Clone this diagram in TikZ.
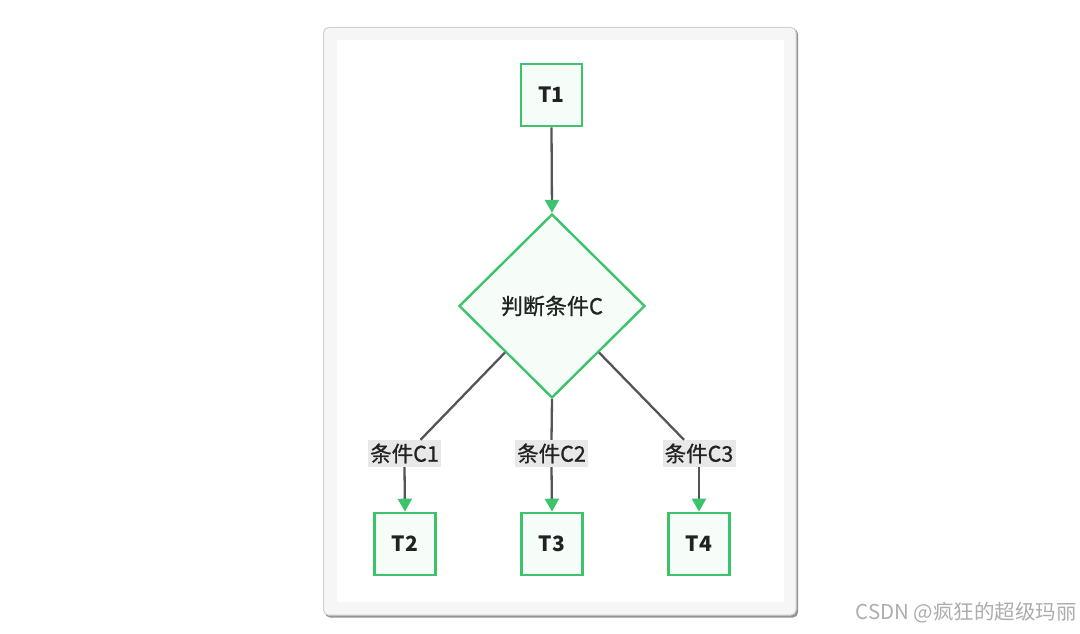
\documentclass[tikz,border=0pt]{standalone}
\usepackage{fontspec}
\setmainfont{Noto Sans CJK SC}
\newfontfamily\cjkm{Noto Sans CJK SC}[FakeBold=0.8]
\usetikzlibrary{shapes.geometric,arrows.meta,calc}
\definecolor{mgreen}{HTML}{3CC36C}
\definecolor{mfill}{HTML}{F6FDF8}
\definecolor{medge}{HTML}{555555}
\definecolor{mlab}{HTML}{E8E8E8}
\definecolor{mtext}{HTML}{222222}
\tikzset{
  tbox/.style={draw=mgreen, line width=2.6pt, fill=mfill, minimum width=61pt, minimum height=62pt, inner sep=0pt, font=\bfseries\fontsize{21pt}{24pt}\selectfont, text=mtext},
  dbox/.style={diamond, draw=mgreen, line width=2.4pt, fill=mfill, minimum width=186pt, minimum height=184pt, inner sep=0pt, font=\cjkm\fontsize{22pt}{24pt}\selectfont, text=mtext},
  elabel/.style={fill=mlab, inner sep=0pt, minimum width=73pt, minimum height=27pt, font=\cjkm\fontsize{21.5pt}{24pt}\selectfont, text=mtext},
  conn/.style={draw=medge, line width=2.3pt},
  arr/.style={conn, -{Triangle[width=14pt, length=13pt, color=mgreen, fill=mgreen]}},
}
\begin{document}
\begin{tikzpicture}[x=1pt,y=-1pt]
\useasboundingbox (0,0) rectangle (1080,634);
\fill[white] (0,0) rectangle (1080,634);
% panel
\fill[black!42, rounded corners=5pt] (325,29) rectangle (798,617.5);
\draw[black!18, fill=black!3.5, line width=1pt, rounded corners=5pt] (323.5,27.5) rectangle (796,615);
\fill[white] (337,40) rectangle (784,602);
% nodes
\node[tbox] (t1) at (551.5,95) {T1};
\node[dbox] (d) at (552,306) {判断条件C};
\node[elabel] (c1) at (404.5,453.5) {条件C1};
\node[elabel] (c2) at (551.5,453.5) {条件C2};
\node[elabel] (c3) at (699,453.5) {条件C3};
\node[tbox] (t2) at (405,544) {T2};
\node[tbox] (t3) at (552,544) {T3};
\node[tbox] (t4) at (699,544) {T4};
% connectors
\draw[arr] (t1.south) -- (d.north);
\draw[conn] (d.south west) -- ([xshift=16pt]c1.north);
\draw[conn] (d.south) -- (c2.north);
\draw[conn] (d.south east) -- ([xshift=-15pt]c3.north);
\draw[arr] (c1.south) -- (t2.north);
\draw[arr] (c2.south) -- (t3.north);
\draw[arr] (c3.south) -- (t4.north);
% watermark
\node[anchor=east, inner sep=0pt, text=black!32, font=\fontsize{20.5pt}{22pt}\selectfont] (wm) at (1077,613) {CSDN @疯狂的超级玛丽};
\end{tikzpicture}
\end{document}
